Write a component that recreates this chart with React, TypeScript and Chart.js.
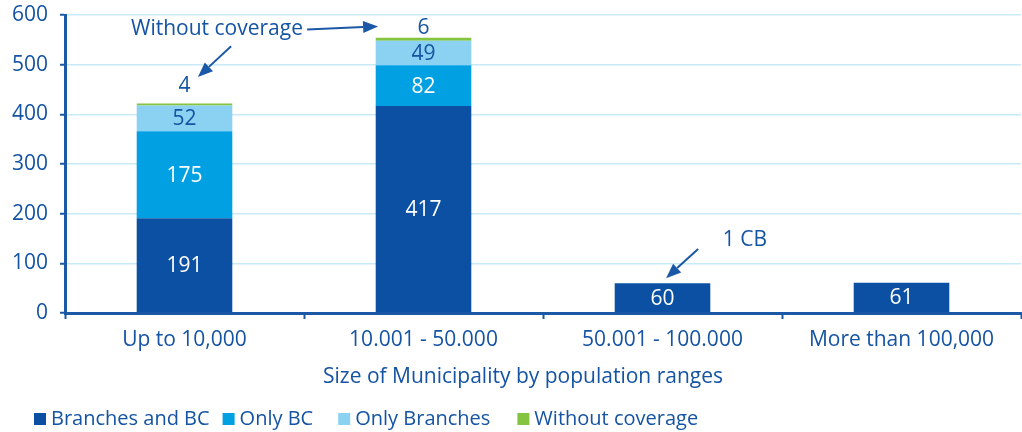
import React, { useEffect, useRef } from "react";
import { Chart, registerables } from "chart.js";

Chart.register(...registerables);

const categories = ["Up to 10,000", "10.001 - 50.000", "50.001 - 100.000", "More than 100,000"];
const seriesNames = ["Branches and BC", "Only BC", "Only Branches", "Without coverage"];
const branchesAndBC = [191, 417, 60, 61];
const onlyBC = [175, 82, 0, 0];
const onlyBranches = [52, 49, 0, 0];
const withoutCoverage = [4, 6, 0, 0];
const yTicks = [0, 100, 200, 300, 400, 500, 600];
const xTitle = "Size of Municipality by population ranges";
const noteText = "Without coverage";
const cbText = "1 CB";

const COLORS = ["#0b50a3", "#00a0e3", "#8bd2f2", "#84c441"];
const TEXT = "#1553a3";
const AXIS = "#1b58a6";
const GRID = "#c8eaf7";
const FONT = "'Open Sans', 'Noto Sans', sans-serif";
const LABEL_COLORS = ["#ffffff", "#ffffff", TEXT, TEXT];
const coverageLift = [17, 10];
const legendGaps = [13, 25, 27];

// annotations in data coords: x = category index (+fraction), y = value
const noteAnchor = { xi: 0.136, v: 571 };
const arrows = [
  { from: { xi: 0.195, v: 537 }, to: { xi: 0.056, v: 475 } },
  { from: { xi: 0.513, v: 571 }, to: { xi: 0.81, v: 577 } },
  { from: { xi: 2.149, v: 129 }, to: { xi: 2.015, v: 70 } },
];
const cbAnchor = { xi: 2.345, v: 147 };

export default function App() {
  const ref = useRef<HTMLCanvasElement | null>(null);

  useEffect(() => {
    if (!ref.current) return;
    const seriesData = [branchesAndBC, onlyBC, onlyBranches, withoutCoverage];

    const overlay = {
      id: "overlay",
      afterDatasetsDraw(chart: any) {
        const ctx = chart.ctx;
        const xs = chart.scales.x;
        const ys = chart.scales.y;
        const area = chart.chartArea;
        const catW = (area.right - area.left) / categories.length;
        const px = (xi: number) => xs.getPixelForValue(0) + xi * catW;
        const py = (v: number) => ys.getPixelForValue(v);

        ctx.save();
        ctx.font = `21px ${FONT}`;
        ctx.textAlign = "center";
        ctx.textBaseline = "middle";
        // data labels
        chart.data.datasets.forEach((ds: any, di: number) => {
          const meta = chart.getDatasetMeta(di);
          meta.data.forEach((el: any, i: number) => {
            const val = ds.data[i];
            if (!val) return;
            ctx.fillStyle = LABEL_COLORS[di];
            if (di === 3) {
              ctx.fillText(String(val), el.x, el.y - (coverageLift[i] ?? 12));
            } else {
              ctx.fillText(String(val), el.x, (el.y + el.base) / 2 + 1);
            }
          });
        });

        // annotations
        ctx.fillStyle = TEXT;
        ctx.fillText(noteText, px(noteAnchor.xi), py(noteAnchor.v));
        ctx.fillText(cbText, px(cbAnchor.xi), py(cbAnchor.v));

        ctx.strokeStyle = AXIS;
        ctx.fillStyle = AXIS;
        ctx.lineWidth = 2;
        arrows.forEach((a) => {
          const x1 = px(a.from.xi), y1 = py(a.from.v);
          const x2 = px(a.to.xi), y2 = py(a.to.v);
          const ang = Math.atan2(y2 - y1, x2 - x1);
          const headL = 15, headW = 6;
          const bx = x2 - headL * Math.cos(ang), by = y2 - headL * Math.sin(ang);
          ctx.beginPath();
          ctx.moveTo(x1, y1);
          ctx.lineTo(bx, by);
          ctx.stroke();
          ctx.beginPath();
          ctx.moveTo(x2, y2);
          ctx.lineTo(bx + headW * Math.sin(ang), by - headW * Math.cos(ang));
          ctx.lineTo(bx - headW * Math.sin(ang), by + headW * Math.cos(ang));
          ctx.closePath();
          ctx.fill();
        });

        // x-axis title
        ctx.fillStyle = TEXT;
        ctx.fillText(xTitle, 523, area.bottom + 64);

        // legend
        ctx.font = `20px ${FONT}`;
        ctx.textAlign = "left";
        let x = 34;
        const ly = area.bottom + 106;
        seriesNames.forEach((name, i) => {
          ctx.fillStyle = COLORS[i];
          ctx.fillRect(x, ly - 6, 12, 12);
          ctx.fillStyle = TEXT;
          ctx.fillText(name, x + 17, ly);
          x += 17 + ctx.measureText(name).width + (legendGaps[i] ?? 14);
        });
        ctx.restore();
      },
    };

    const chart = new Chart(ref.current, {
      type: "bar",
      data: {
        labels: categories,
        datasets: seriesNames.map((name, i) => ({
          label: name,
          data: seriesData[i],
          backgroundColor: COLORS[i],
          borderWidth: 0,
          categoryPercentage: 1,
          barPercentage: 0.4,
        })),
      },
      options: {
        animation: false,
        responsive: false,
        maintainAspectRatio: false,
        layout: { padding: { top: 15, right: 1, left: 0, bottom: 0 } },
        plugins: {
          legend: { display: false },
          tooltip: { enabled: false },
        },
        scales: {
          x: {
            stacked: true,
            afterFit: (s: any) => {
              s.height = 119;
              s.paddingLeft = 0;
              s.paddingRight = 0;
            },
            grid: {
              offset: true,
              drawOnChartArea: false,
              drawTicks: true,
              tickLength: 6,
              tickColor: AXIS,
              tickWidth: 2,
            },
            border: { color: AXIS, width: 3 },
            ticks: {
              color: TEXT,
              font: { family: FONT, size: 21 },
              padding: 8,
              maxRotation: 0,
            },
          },
          y: {
            stacked: true,
            min: 0,
            max: 600,
            afterFit: (s: any) => {
              s.width = 65;
              s.paddingTop = 0;
              s.paddingBottom = 0;
            },
            afterBuildTicks: (s: any) => {
              s.ticks = yTicks.map((v) => ({ value: v }));
            },
            grid: {
              color: GRID,
              lineWidth: 1.5,
              tickLength: 5,
              tickColor: AXIS,
              tickWidth: 2,
            },
            border: { color: AXIS, width: 3 },
            ticks: {
              color: TEXT,
              font: { family: FONT, size: 21 },
              padding: 12,
            },
          },
        },
      },
      plugins: [overlay],
    });
    return () => chart.destroy();
  }, []);

  return (
    <div style={{ position: "fixed", left: 0, top: 0, width: 1022, height: 432, background: "#fff" }}>
      <canvas ref={ref} width={1022} height={432} style={{ width: 1022, height: 432 }} />
    </div>
  );
}
